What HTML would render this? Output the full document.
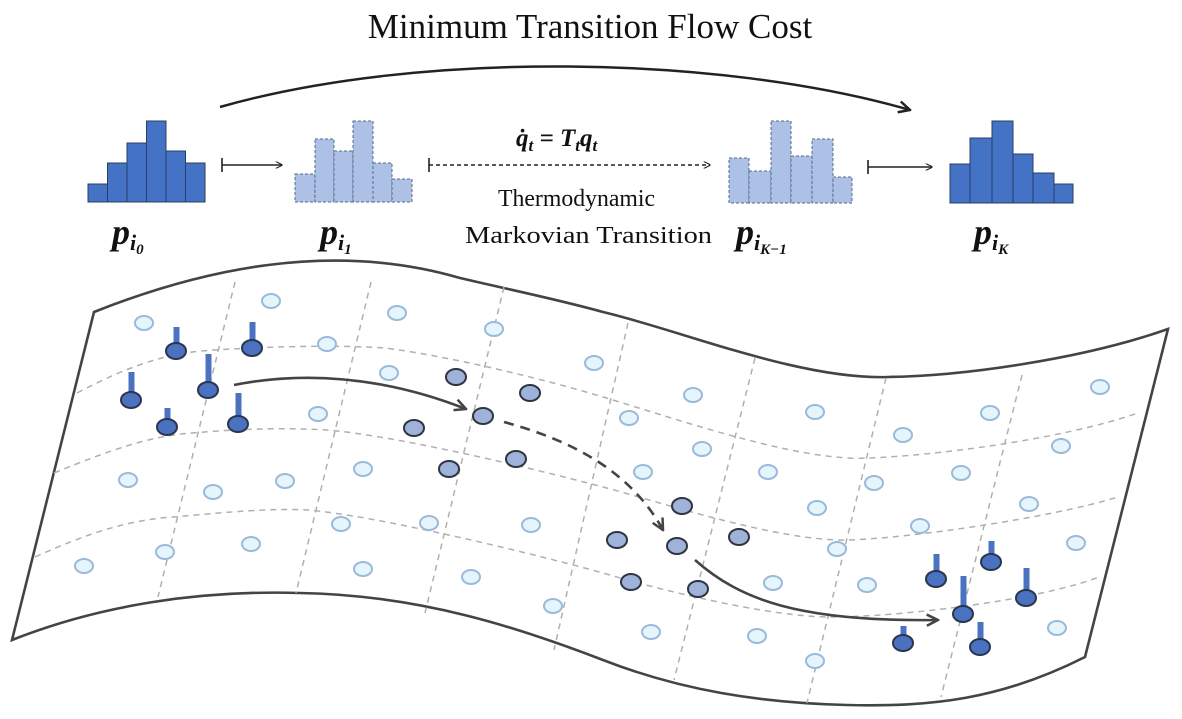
<!DOCTYPE html>
<html><head><meta charset="utf-8"><style>
html,body{margin:0;padding:0;background:#fff;}
svg{display:block;}
text{font-family:"Liberation Serif",serif;fill:#111;}
</style></head><body>
<svg width="1182" height="719" viewBox="0 0 1182 719" xmlns="http://www.w3.org/2000/svg">
<defs>
<marker id="ah" viewBox="0 0 10 10" refX="9" refY="5" markerWidth="7" markerHeight="7" orient="auto" markerUnits="userSpaceOnUse">
<path d="M0,0 L10,5 L0,10" fill="none" stroke="#222" stroke-width="1.6"/></marker>
<marker id="ah2" viewBox="0 0 10 10" refX="9" refY="5" markerWidth="14" markerHeight="14" orient="auto" markerUnits="userSpaceOnUse">
<path d="M1,1 L9,5 L1,9" fill="none" stroke="#222" stroke-width="1.8"/></marker>
<marker id="ah3" viewBox="0 0 10 10" refX="9" refY="5" markerWidth="14" markerHeight="14" orient="auto" markerUnits="userSpaceOnUse">
<path d="M1,1 L9,5 L1,9" fill="none" stroke="#444" stroke-width="1.8"/></marker>
</defs>

<text x="590" y="38" font-size="35" text-anchor="middle">Minimum Transition Flow Cost</text>
<path d="M220,107 C420,50 720,55 910,110" fill="none" stroke="#222" stroke-width="2.5" marker-end="url(#ah2)"/>

<g fill="#4472c4" stroke="#2a3f66" stroke-width="1">
<rect x="88" y="184" width="19.5" height="18"/><rect x="107.5" y="163" width="19.5" height="39"/><rect x="127" y="143" width="19.5" height="59"/><rect x="146.5" y="121" width="19.5" height="81"/><rect x="166" y="151" width="19.5" height="51"/><rect x="185.5" y="163" width="19.5" height="39"/>
</g>
<g fill="#adc1e6" stroke="#5a6a8a" stroke-width="1" stroke-dasharray="3,2">
<rect x="295" y="174" width="20" height="28"/><rect x="315" y="139" width="19" height="63"/><rect x="334" y="151" width="19" height="51"/><rect x="353" y="121" width="20" height="81"/><rect x="373" y="163" width="19" height="39"/><rect x="392" y="179" width="20" height="23"/>
</g>
<g fill="#adc1e6" stroke="#5a6a8a" stroke-width="1" stroke-dasharray="3,2">
<rect x="729" y="158" width="20" height="45"/><rect x="749" y="171" width="22" height="32"/><rect x="771" y="121" width="20" height="82"/><rect x="791" y="156" width="21" height="47"/><rect x="812" y="139" width="21" height="64"/><rect x="833" y="177" width="19" height="26"/>
</g>
<g fill="#4472c4" stroke="#2a3f66" stroke-width="1">
<rect x="950" y="164" width="20" height="39"/><rect x="970" y="138" width="22" height="65"/><rect x="992" y="121" width="21" height="82"/><rect x="1013" y="154" width="20" height="49"/><rect x="1033" y="173" width="21" height="30"/><rect x="1054" y="184" width="19" height="19"/>
</g>

<g stroke="#222" stroke-width="1.6" fill="none">
<line x1="222" y1="165" x2="282" y2="165" marker-end="url(#ah)"/><line x1="222" y1="158" x2="222" y2="172"/>
<line x1="868" y1="167" x2="932" y2="167" marker-end="url(#ah)"/><line x1="868" y1="160" x2="868" y2="174"/>
<line x1="429" y1="165" x2="710" y2="165" stroke-dasharray="4,3" marker-end="url(#ah)"/><line x1="429" y1="158" x2="429" y2="172"/>
</g>
<text x="516" y="146" font-size="25" font-weight="bold" font-style="italic">q̇<tspan font-size="17" dy="5">t</tspan><tspan dy="-5"> = T</tspan><tspan font-size="17" dy="5">t</tspan><tspan dy="-5">q</tspan><tspan font-size="17" dy="5">t</tspan></text>
<text x="498" y="206" font-size="24" textLength="157" lengthAdjust="spacingAndGlyphs">Thermodynamic</text>
<text x="465" y="243" font-size="24" textLength="247" lengthAdjust="spacingAndGlyphs">Markovian Transition</text>

<g font-weight="bold" font-style="italic">
<text x="112" y="244" font-size="36">p<tspan font-size="22" dy="6">i</tspan><tspan font-size="15" dy="4">0</tspan></text>
<text x="320" y="244" font-size="36">p<tspan font-size="22" dy="6">i</tspan><tspan font-size="15" dy="4">1</tspan></text>
<text x="736" y="244" font-size="36">p<tspan font-size="22" dy="6">i</tspan><tspan font-size="15" dy="4">K−1</tspan></text>
<text x="974" y="244" font-size="36">p<tspan font-size="22" dy="6">i</tspan><tspan font-size="15" dy="4">K</tspan></text>
</g>

<path d="M94,312 C200,270 330,240 460,278 C520,292 560,300 603,312 C680,330 800,380 888,377 C960,376 1080,360 1168,329 L1085,657 C1000,700 930,707 847,705 C760,703 680,690 603,660 C520,628 420,595 300,593 C200,590 100,605 12,640 Z" fill="#fff" stroke="#444" stroke-width="2.6" stroke-linejoin="miter"/>

<g fill="none" stroke="#b0b0b0" stroke-width="1.5" stroke-dasharray="6,5">
<path d="M77,393 C130,365 170,352 215,350 C280,346 340,345 385,348 C440,355 530,375 603,397 C680,420 800,462 868,458 C930,456 1060,440 1138,413"/>
<path d="M54,473 C110,450 150,436 192,433 C250,428 290,428 327,430 C390,435 520,465 603,487 C660,502 780,542 849,540 C910,538 1050,518 1118,497"/>
<path d="M35,557 C90,532 130,520 173,517 C230,512 270,508 308,510 C370,515 520,550 603,573 C660,590 770,617 830,617 C900,617 1040,600 1099,577"/>
<line x1="235" y1="282" x2="158" y2="597"/>
<line x1="371" y1="282" x2="296" y2="593"/>
<line x1="504" y1="287" x2="425" y2="613"/>
<line x1="628" y1="323" x2="554" y2="650"/>
<line x1="755" y1="358" x2="674" y2="680"/>
<line x1="886" y1="378" x2="807" y2="703"/>
<line x1="1022" y1="375" x2="941" y2="697"/>
</g>

<g fill="#e4f6fb" stroke="#9bb9da" stroke-width="2">
<ellipse cx="144" cy="323" rx="9" ry="7"/><ellipse cx="271" cy="301" rx="9" ry="7"/><ellipse cx="397" cy="313" rx="9" ry="7"/><ellipse cx="494" cy="329" rx="9" ry="7"/><ellipse cx="327" cy="344" rx="9" ry="7"/><ellipse cx="389" cy="373" rx="9" ry="7"/><ellipse cx="594" cy="363" rx="9" ry="7"/><ellipse cx="318" cy="414" rx="9" ry="7"/><ellipse cx="363" cy="469" rx="9" ry="7"/><ellipse cx="128" cy="480" rx="9" ry="7"/><ellipse cx="213" cy="492" rx="9" ry="7"/><ellipse cx="285" cy="481" rx="9" ry="7"/><ellipse cx="341" cy="524" rx="9" ry="7"/><ellipse cx="429" cy="523" rx="9" ry="7"/><ellipse cx="531" cy="525" rx="9" ry="7"/><ellipse cx="251" cy="544" rx="9" ry="7"/><ellipse cx="165" cy="552" rx="9" ry="7"/><ellipse cx="84" cy="566" rx="9" ry="7"/><ellipse cx="363" cy="569" rx="9" ry="7"/><ellipse cx="471" cy="577" rx="9" ry="7"/><ellipse cx="553" cy="606" rx="9" ry="7"/>
<ellipse cx="693" cy="395" rx="9" ry="7"/><ellipse cx="629" cy="418" rx="9" ry="7"/><ellipse cx="815" cy="412" rx="9" ry="7"/><ellipse cx="702" cy="449" rx="9" ry="7"/><ellipse cx="643" cy="472" rx="9" ry="7"/><ellipse cx="768" cy="472" rx="9" ry="7"/><ellipse cx="903" cy="435" rx="9" ry="7"/><ellipse cx="990" cy="413" rx="9" ry="7"/><ellipse cx="1100" cy="387" rx="9" ry="7"/><ellipse cx="1061" cy="446" rx="9" ry="7"/><ellipse cx="961" cy="473" rx="9" ry="7"/><ellipse cx="874" cy="483" rx="9" ry="7"/><ellipse cx="817" cy="508" rx="9" ry="7"/><ellipse cx="1029" cy="504" rx="9" ry="7"/><ellipse cx="920" cy="526" rx="9" ry="7"/><ellipse cx="837" cy="549" rx="9" ry="7"/><ellipse cx="1076" cy="543" rx="9" ry="7"/><ellipse cx="773" cy="583" rx="9" ry="7"/><ellipse cx="867" cy="585" rx="9" ry="7"/><ellipse cx="651" cy="632" rx="9" ry="7"/><ellipse cx="757" cy="636" rx="9" ry="7"/><ellipse cx="815" cy="661" rx="9" ry="7"/><ellipse cx="1057" cy="628" rx="9" ry="7"/>
</g>

<g fill="#9fb2da" stroke="#2e3440" stroke-width="2">
<ellipse cx="456" cy="377" rx="10" ry="8"/><ellipse cx="530" cy="393" rx="10" ry="8"/><ellipse cx="483" cy="416" rx="10" ry="8"/><ellipse cx="414" cy="428" rx="10" ry="8"/><ellipse cx="449" cy="469" rx="10" ry="8"/><ellipse cx="516" cy="459" rx="10" ry="8"/>
<ellipse cx="682" cy="506" rx="10" ry="8"/><ellipse cx="617" cy="540" rx="10" ry="8"/><ellipse cx="677" cy="546" rx="10" ry="8"/><ellipse cx="739" cy="537" rx="10" ry="8"/><ellipse cx="631" cy="582" rx="10" ry="8"/><ellipse cx="698" cy="589" rx="10" ry="8"/>
</g>

<g fill="none" stroke="#444" stroke-width="2.6">
<path d="M234,385 C300,372 380,375 466,409" marker-end="url(#ah3)"/>
<path d="M504,422 C570,440 630,470 663,530" stroke-dasharray="10,7" marker-end="url(#ah3)"/>
<path d="M695,560 C740,600 800,622 938,620" marker-end="url(#ah3)"/>
</g>

<g fill="#4a72c0">
<rect x="173.5" y="327" width="6" height="22"/><rect x="249.5" y="322" width="6" height="24"/><rect x="128.5" y="372" width="6" height="26"/><rect x="205.5" y="354" width="6" height="34"/><rect x="164.5" y="408" width="6" height="17"/><rect x="235.5" y="393" width="6" height="29"/>
<rect x="933.5" y="554" width="6" height="23"/><rect x="988.5" y="541" width="6" height="19"/><rect x="960.5" y="576" width="6" height="36"/><rect x="1023.5" y="568" width="6" height="28"/><rect x="900.5" y="626" width="6" height="15"/><rect x="977.5" y="622" width="6" height="23"/>
</g>
<g fill="#4a72c0" stroke="#2a3550" stroke-width="2">
<ellipse cx="176" cy="351" rx="10" ry="8"/><ellipse cx="252" cy="348" rx="10" ry="8"/><ellipse cx="131" cy="400" rx="10" ry="8"/><ellipse cx="208" cy="390" rx="10" ry="8"/><ellipse cx="167" cy="427" rx="10" ry="8"/><ellipse cx="238" cy="424" rx="10" ry="8"/>
<ellipse cx="936" cy="579" rx="10" ry="8"/><ellipse cx="991" cy="562" rx="10" ry="8"/><ellipse cx="963" cy="614" rx="10" ry="8"/><ellipse cx="1026" cy="598" rx="10" ry="8"/><ellipse cx="903" cy="643" rx="10" ry="8"/><ellipse cx="980" cy="647" rx="10" ry="8"/>
</g>
</svg>
</body></html>
